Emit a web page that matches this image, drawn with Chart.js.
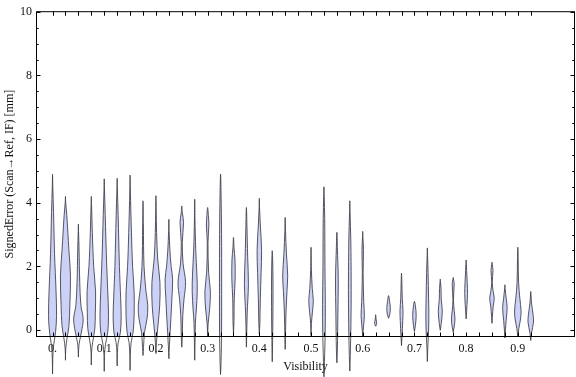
<!DOCTYPE html>
<html>
<head>
<meta charset="utf-8">
<script src="https://cdn.jsdelivr.net/npm/chart.js@4.4.1/dist/chart.umd.min.js"></script>
<style>
  html, body { margin: 0; padding: 0; background: #fff; }
  #wrap { width: 576px; height: 377px; }
</style>
</head>
<body>
<div id="wrap"><canvas id="violins"></canvas></div>
<script>
// violin positions on the visibility axis
const visibility = [0, 0.025, 0.05, 0.075, 0.1, 0.125, 0.15, 0.175, 0.2, 0.225, 0.25, 0.275,
  0.3, 0.325, 0.35, 0.375, 0.4, 0.425, 0.45, 0.5, 0.525, 0.55, 0.575, 0.6,
  0.625, 0.65, 0.675, 0.7, 0.725, 0.75, 0.775, 0.8, 0.85, 0.875, 0.9, 0.925];

// lowest / highest signed error of each violin (mm)
const errMin = [-1.38, -0.95, -0.85, -1.1, -1.3, -1.13, -1.27, -0.8, -0.74, -0.9, -0.54, -0.95,
  -0.2, -1.4, -0.1, -0.54, -0.12, -1.0, -0.61, -0.17, -1.47, -1.03, -1.29, -0.2,
  0.12, 0.37, -0.49, -0.05, -0.99, -0.01, -0.07, 0.35, 0.21, -0.25, -0.22, -0.33];
const errMax = [4.9, 4.2, 3.33, 4.2, 4.75, 4.77, 4.87, 4.06, 4.22, 3.48, 3.9, 4.11,
  3.85, 4.9, 2.91, 3.85, 4.14, 2.49, 3.54, 2.6, 4.5, 3.07, 4.06, 3.1,
  0.48, 1.08, 1.79, 0.9, 2.58, 1.6, 1.65, 2.2, 2.13, 1.42, 2.6, 1.21];

// [error, relative density], bottom to top
const densityProfiles = [
  [[-0.9, 0.05], [-0.5, 0.2], [-0.07, 0.6], [0.45, 0.8], [1.2, 0.7], [2.4, 0.4], [3.7, 0.2], [4.5, 0.05]],
  [[-0.6, 0.05], [-0.27, 0.3], [0.14, 0.7], [0.77, 0.87], [1.7, 1.0], [2.54, 0.67], [3.6, 0.27], [4.0, 0.05]],
  [[-0.6, 0.05], [-0.38, 0.2], [-0.07, 0.6], [0.35, 0.95], [0.77, 0.5], [1.5, 0.27], [2.54, 0.13], [3.1, 0.03]],
  [[-0.7, 0.05], [-0.4, 0.25], [0.04, 0.7], [0.56, 0.8], [1.2, 0.85], [2.0, 0.47], [3.07, 0.2], [3.9, 0.05]],
  [[-0.8, 0.05], [-0.45, 0.25], [-0.07, 0.7], [0.45, 0.85], [1.2, 0.7], [2.23, 0.45], [3.6, 0.2], [4.4, 0.05]],
  [[-0.7, 0.05], [-0.4, 0.2], [-0.07, 0.65], [0.45, 0.8], [0.98, 0.7], [2.0, 0.45], [3.6, 0.2], [4.4, 0.05]],
  [[-0.8, 0.05], [-0.4, 0.2], [-0.07, 0.6], [0.45, 0.8], [1.2, 0.8], [2.0, 0.5], [3.07, 0.27], [4.4, 0.05]],
  [[-0.55, 0.1], [-0.07, 0.3], [0.35, 0.8], [0.77, 0.95], [1.2, 0.6], [2.0, 0.2], [3.3, 0.07]],
  [[-0.4, 0.1], [0.14, 0.4], [0.77, 0.75], [1.5, 0.8], [2.23, 0.35], [3.07, 0.13], [3.8, 0.04]],
  [[-0.5, 0.1], [0.35, 0.4], [0.98, 0.6], [1.6, 0.75], [2.0, 0.45], [2.54, 0.2], [3.1, 0.05]],
  [[-0.2, 0.1], [0.45, 0.2], [0.98, 0.45], [1.5, 0.75], [2.1, 0.25], [2.75, 0.1], [3.38, 0.35], [3.7, 0.1]],
  [[-0.5, 0.05], [0.2, 0.13], [0.66, 0.33], [1.2, 0.5], [1.7, 0.45], [2.54, 0.2], [3.5, 0.05]],
  [[0.2, 0.1], [0.66, 0.4], [1.2, 0.55], [1.8, 0.2], [2.75, 0.07], [3.3, 0.25], [3.6, 0.15]],
  [[-1.0, 0.1], [0.0, 0.2], [1.5, 0.22], [3.0, 0.2], [4.3, 0.1]],
  [[0.3, 0.1], [1.0, 0.15], [1.6, 0.33], [2.2, 0.3], [2.6, 0.1]],
  [[-0.2, 0.05], [0.5, 0.15], [1.45, 0.4], [2.3, 0.25], [3.3, 0.1]],
  [[0.2, 0.1], [1.0, 0.2], [1.8, 0.35], [2.5, 0.45], [3.3, 0.2], [3.8, 0.05]],
  [[-0.6, 0.05], [0.5, 0.13], [1.45, 0.15], [2.2, 0.08]],
  [[-0.3, 0.05], [0.5, 0.15], [1.2, 0.35], [1.7, 0.5], [2.4, 0.25], [3.1, 0.07]],
  [[0.2, 0.07], [0.6, 0.3], [0.92, 0.45], [1.3, 0.25], [1.9, 0.07]],
  [[-1.0, 0.1], [0.0, 0.25], [0.8, 0.27], [2.0, 0.2], [3.5, 0.15], [4.2, 0.05]],
  [[-0.6, 0.1], [0.5, 0.2], [1.6, 0.27], [2.6, 0.1]],
  [[-0.8, 0.1], [0.5, 0.25], [1.5, 0.27], [2.8, 0.2], [3.7, 0.05]],
  [[0.1, 0.15], [0.46, 0.33], [0.9, 0.2], [1.8, 0.08], [2.5, 0.15], [2.9, 0.05]],
  [[0.2, 0.2], [0.35, 0.08]],
  [[0.5, 0.25], [0.7, 0.35], [0.9, 0.2]],
  [[-0.2, 0.1], [0.3, 0.25], [0.6, 0.3], [1.0, 0.15], [1.5, 0.07]],
  [[0.15, 0.2], [0.46, 0.35], [0.75, 0.2]],
  [[-0.5, 0.1], [0.0, 0.25], [0.5, 0.3], [1.0, 0.25], [1.8, 0.15], [2.3, 0.05]],
  [[0.2, 0.2], [0.6, 0.4], [0.95, 0.2], [1.3, 0.15], [1.5, 0.05]],
  [[0.1, 0.2], [0.35, 0.35], [0.6, 0.2], [0.95, 0.05], [1.45, 0.2], [1.6, 0.05]],
  [[0.6, 0.1], [1.0, 0.25], [1.3, 0.27], [1.7, 0.15], [2.05, 0.05]],
  [[0.4, 0.07], [0.75, 0.25], [1.0, 0.45], [1.2, 0.25], [1.5, 0.05], [1.87, 0.2], [2.05, 0.05]],
  [[0.0, 0.1], [0.3, 0.25], [0.7, 0.45], [1.0, 0.25], [1.3, 0.05]],
  [[0.05, 0.2], [0.35, 0.55], [0.6, 0.65], [1.0, 0.4], [1.5, 0.15], [2.2, 0.07]],
  [[-0.1, 0.15], [0.25, 0.55], [0.5, 0.45], [0.85, 0.15], [1.1, 0.05]]
];

const xTickValues = [0, 0.1, 0.2, 0.3, 0.4, 0.5, 0.6, 0.7, 0.8, 0.9];
const xTickLabels = ['0.', '0.1', '0.2', '0.3', '0.4', '0.5', '0.6', '0.7', '0.8', '0.9'];
const yTickValues = [0, 2, 4, 6, 8, 10];
const yTickLabels = ['0', '2', '4', '6', '8', '10'];

const HALF_WIDTH = 0.0097; // x-units for density 1

// outline: bottom tip, right side up, top tip, left side down
function violinOutline(i) {
  const c = visibility[i];
  const prof = densityProfiles[i];
  const pts = [{ x: c, y: errMin[i] }];
  prof.forEach(([v, d]) => pts.push({ x: c + d * HALF_WIDTH, y: v }));
  pts.push({ x: c, y: errMax[i] });
  for (let k = prof.length - 1; k >= 0; k--) {
    pts.push({ x: c - prof[k][1] * HALF_WIDTH, y: prof[k][0] });
  }
  pts.push({ x: c, y: errMin[i] });
  return pts;
}

const serif = "'Liberation Serif', 'DejaVu Serif', serif";

// frame with inward ticks on all four sides
const framePlugin = {
  id: 'frame',
  afterDraw(chart) {
    const { ctx, chartArea: a, scales: { x, y } } = chart;
    ctx.save();
    ctx.strokeStyle = '#000';
    ctx.lineWidth = 1;
    ctx.strokeRect(a.left + 0.5, a.top + 0.5, a.right - a.left - 1, a.bottom - a.top - 1);
    ctx.beginPath();
    for (let k = 0; k <= 37; k++) {
      const px = Math.round(x.getPixelForValue(k * 0.025)) + 0.5;
      ctx.moveTo(px, a.bottom); ctx.lineTo(px, a.bottom - 4.5);
      ctx.moveTo(px, a.top); ctx.lineTo(px, a.top + 4.5);
    }
    for (let k = 0; k <= 20; k++) {
      const py = Math.round(y.getPixelForValue(k * 0.5)) + 0.5;
      const len = k % 4 === 0 ? 4.5 : 2.7;
      ctx.moveTo(a.left, py); ctx.lineTo(a.left + len, py);
      ctx.moveTo(a.right, py); ctx.lineTo(a.right - len, py);
    }
    ctx.stroke();
    ctx.restore();
  }
};

const datasets = visibility.map((c, i) => ({
  data: violinOutline(i),
  showLine: true,
  fill: 'shape',
  backgroundColor: 'rgb(204, 210, 247)',
  borderColor: 'rgba(60, 60, 70, 0.85)',
  borderWidth: 1,
  pointRadius: 0,
  tension: 0.35,
  clip: false
}));

new Chart(document.getElementById('violins'), {
  type: 'scatter',
  data: { datasets: datasets },
  options: {
    responsive: true,
    maintainAspectRatio: false,
    animation: false,
    layout: { padding: { top: 10, right: 1, left: 0, bottom: 0 } },
    elements: { line: { capBezierPoints: false } },
    plugins: { legend: { display: false }, tooltip: { enabled: false } },
    scales: {
      x: {
        type: 'linear',
        min: -0.032,
        max: 1.0106,
        grid: { display: false, drawTicks: false },
        border: { display: false },
        afterBuildTicks: (s) => { s.ticks = xTickValues.map(v => ({ value: v })); },
        afterFit: (s) => { s.height = 40; },
        ticks: {
          autoSkip: false,
          maxRotation: 0,
          padding: 5,
          color: '#111',
          font: { family: serif, size: 12 },
          callback: (v, idx) => xTickLabels[idx]
        },
        title: {
          display: true,
          text: 'Visibility',
          color: '#111',
          font: { family: serif, size: 12 },
          padding: { top: 0, bottom: 3 }
        }
      },
      y: {
        type: 'linear',
        min: -0.22,
        max: 10.02,
        grid: { display: false, drawTicks: false },
        border: { display: false },
        afterBuildTicks: (s) => { s.ticks = yTickValues.map(v => ({ value: v })); },
        afterFit: (s) => { s.width = 36; },
        ticks: {
          padding: 4,
          color: '#111',
          font: { family: serif, size: 12 },
          callback: (v, idx) => yTickLabels[idx]
        },
        title: {
          display: true,
          text: 'SignedError (Scan\u2192Ref, IF) [mm]',
          color: '#111',
          font: { family: serif, size: 12 },
          padding: { top: 3, bottom: 0 }
        }
      }
    }
  },
  plugins: [framePlugin]
});
</script>
</body>
</html>
